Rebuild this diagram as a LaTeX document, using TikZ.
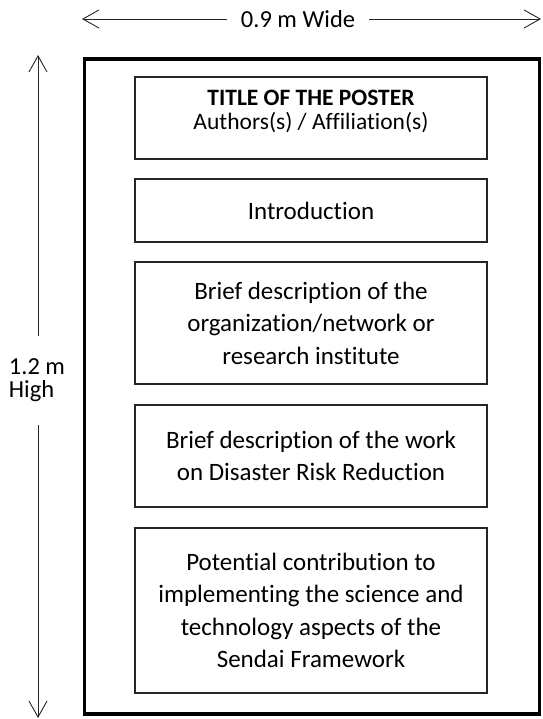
\documentclass[tikz,border=0pt]{standalone}
\usepackage{fontspec}
\setmainfont{Carlito}[Ligatures=NoCommon]
\usetikzlibrary{positioning,arrows.meta}

\begin{document}
\begin{tikzpicture}[x=1pt,y=-1pt,
  part/.style={draw=black!85,line width=1.4pt,minimum width=352pt,align=center,
    font=\fontsize{25}{32.5}\selectfont},
  dim/.style={-{Straight Barb[length=16pt,width=18pt]},line width=0.9pt,black!85},
  lbl/.style={font=\fontsize{24.5}{25}\selectfont,inner sep=2pt}]

\useasboundingbox (0,0) rectangle (542,719);

% poster sheet
\node[draw,line width=3.5pt,minimum width=455pt,minimum height=655pt] (poster) at (312,386.5) {};

\node[part,minimum height=82pt,font=\fontsize{23.5}{23.5}\selectfont] (title) at (311,118)
  {\textbf{TITLE OF THE POSTER}\\Authors(s) / Affiliation(s)\\[-7pt]};
\node[part,minimum height=63pt] (intro) at (311,210.5) {Introduction};
\node[part,minimum height=122pt] (org) at (311,323)
  {Brief description of the\\organization/network or\\research institute};
\node[part,minimum height=102pt] (drr) at (311,456)
  {Brief description of the work\\on Disaster Risk Reduction};
\node[part,minimum height=165pt] (sendai) at (311,610.5)
  {Potential contribution to\\implementing the science and\\technology aspects of the\\Sendai Framework};

% dimensions
\node[lbl,inner xsep=14pt] (wide) at (298,19) {0.9 m Wide};
\coordinate (wl) at (82,19);
\coordinate (wr) at (541,19);
\path [dim] (wide) edge (wl);
\path [dim] (wide) edge (wr);

\node[lbl,align=left,font=\fontsize{24.5}{23}\selectfont] (high) at (37,380) {1.2 m\\High};
\coordinate (ht) at (38,55);
\coordinate (hb) at (38,718);
\path [dim] (38,336) edge (ht);
\path [dim] (38,425) edge (hb);

\end{tikzpicture}
\end{document}
